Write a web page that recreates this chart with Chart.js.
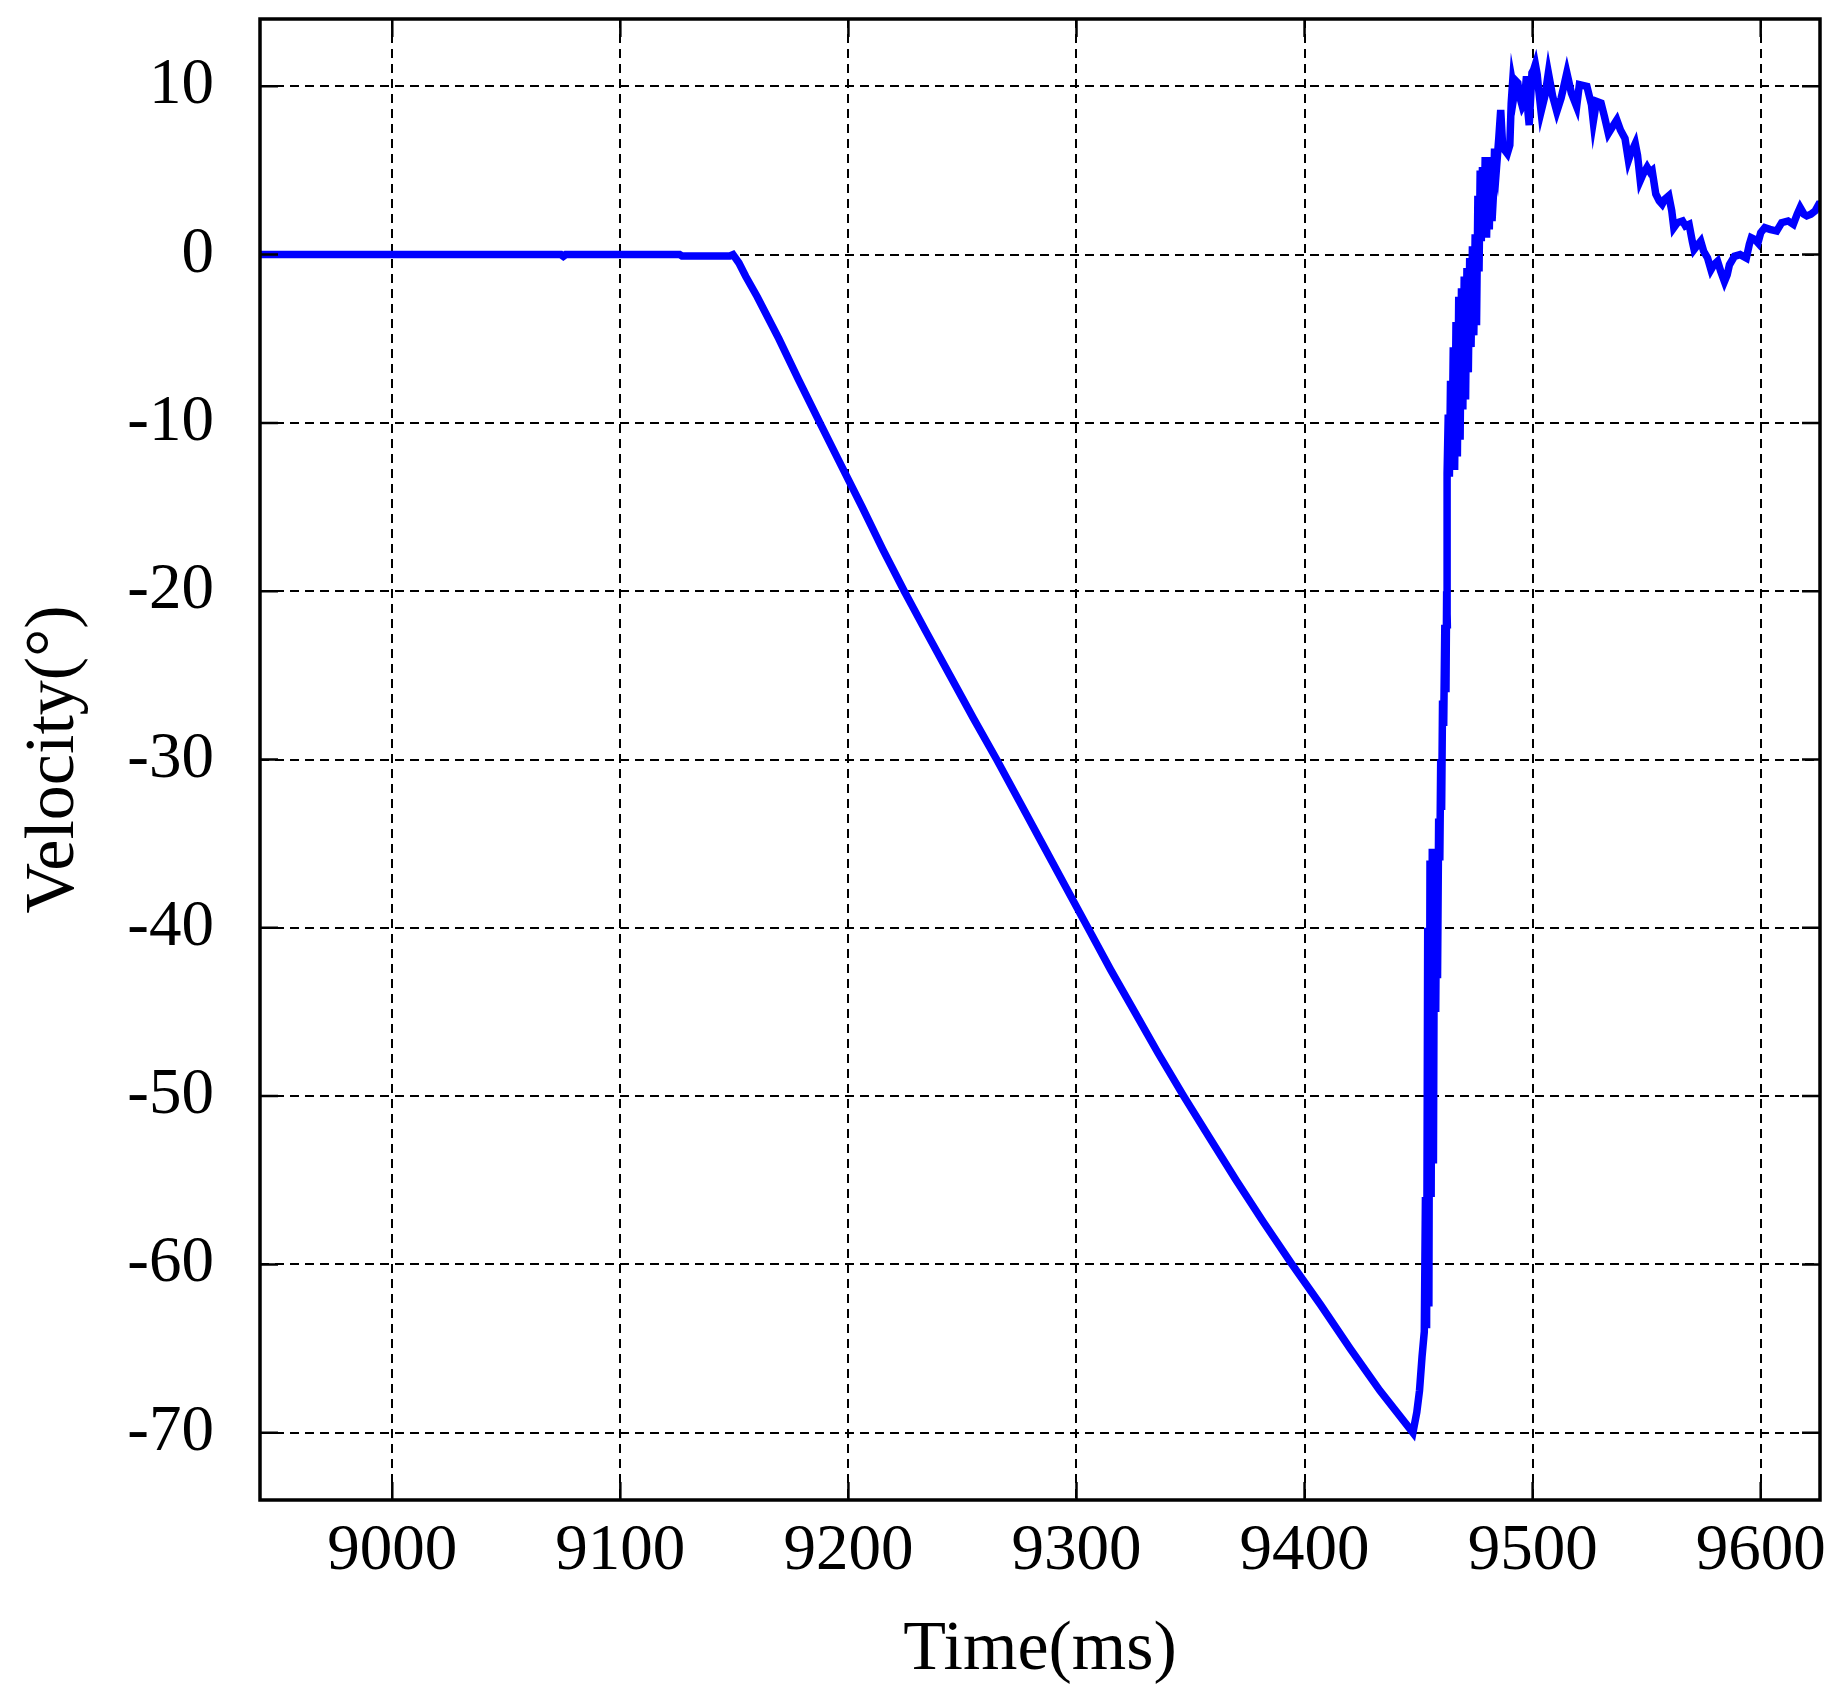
<!DOCTYPE html>
<html>
<head>
<meta charset="utf-8">
<script src="https://cdn.jsdelivr.net/npm/chart.js@4.4.1/dist/chart.umd.min.js"></script>
<style>
  html, body { margin: 0; padding: 0; background: #fff; }
  #chart { display: block; }
</style>
</head>
<body>
<canvas id="chart" width="1843" height="1705"></canvas>
<script>
const xTicks = [9000, 9100, 9200, 9300, 9400, 9500, 9600];
const yTicks = [10, 0, -10, -20, -30, -40, -50, -60, -70];
const xRange = [8942, 9626];
const yRange = [-74, 14];

// samples: [time ms, velocity deg]
const idle = [
  [8942, 0], [9000, 0], [9074, 0], [9075, -0.1], [9076, 0],
  [9126, 0], [9127, -0.08], [9148, -0.08]
];

const rampDown = [
  [9149.4, 0], [9152, -0.5], [9155, -1.3], [9160, -2.5], [9169.5, -5],
  [9178, -7.4], [9187.5, -10], [9196, -12.3], [9206, -15], [9215, -17.5],
  [9224.5, -20], [9234, -22.4], [9244.5, -25], [9255, -27.6], [9265, -30],
  [9275, -32.5], [9285, -35], [9295, -37.5], [9305, -40], [9315, -42.5],
  [9325.5, -45], [9336, -47.5], [9347, -50], [9358, -52.4], [9370, -55],
  [9382, -57.5], [9394.5, -60], [9407, -62.4], [9420, -65], [9433, -67.5],
  [9440, -68.7], [9447.5, -70]
];

const rebound = [
  [9449.2, -68.8], [9450.4, -67.5], [9451.5, -65.5], [9452.5, -64.0], [9453.0, -56.0],
  [9453.5, -63.8], [9454.0, -40.0], [9454.5, -62.5], [9455.0, -36.0], [9455.5, -56.0],
  [9456.0, -35.3], [9456.5, -54.0], [9457.0, -35.5], [9457.5, -45.0], [9458.0, -35.6],
  [9458.3, -43.0], [9458.8, -33.5], [9459.3, -36.0], [9459.7, -30.0], [9460.1, -33.0],
  [9460.5, -26.5], [9461.0, -28.0], [9461.5, -22.0], [9462.0, -26.0], [9462.3, -20.0],
  [9462.6, -22.0], [9462.5, -16.0], [9462.5, -13.0],
  [9463.0, -9.5], [9463.5, -13.2], [9464.0, -7.5], [9464.6, -12.5], [9465.2, -5.5],
  [9465.8, -12.8], [9466.4, -4.0], [9467.0, -12.0], [9467.6, -2.5], [9468.2, -11.0],
  [9468.8, -2.0], [9469.4, -9.2], [9470.0, -1.3], [9470.6, -8.6], [9471.2, -0.8],
  [9471.8, -7.0], [9472.4, -0.2], [9473.0, -5.5], [9473.6, 0.5], [9474.2, -4.8],
  [9474.8, 1.2], [9475.4, -4.2], [9476.0, 3.5], [9476.5, -1.0], [9477.0, 5.0],
  [9477.5, 0.8], [9478.0, 5.2], [9478.6, 1.2], [9479.2, 5.8], [9479.8, 1.0],
  [9480.4, 5.6], [9481.0, 1.5], [9481.6, 5.8], [9482.2, 2.0], [9482.8, 3.5],
  [9483.3, 6.3], [9484.3, 5.4], [9485.2, 7.0], [9486.0, 8.6], [9486.8, 6.6],
  [9487.8, 6.2], [9488.9, 6.0], [9490.0, 6.5], [9490.6, 9.0], [9491.2, 10.2],
  [9492.0, 9.6], [9492.8, 10.3], [9493.5, 10.2], [9494.5, 9.3], [9495.5, 8.8],
  [9496.3, 9.0], [9497.3, 10.6], [9498.0, 8.4], [9498.5, 7.7], [9499.2, 9.5],
  [9499.7, 10.8], [9500.5, 11.0], [9501.2, 11.3], [9502.0, 10.7], [9502.5, 10.0],
  [9503.7, 8.5], [9505.5, 9.5], [9506.9, 10.8], [9508.8, 9.4], [9510.6, 8.5],
  [9512.5, 9.3], [9515.0, 10.8], [9517.0, 9.6], [9519.3, 8.8], [9520.5, 10.1],
  [9523.8, 10.0], [9525.8, 8.9], [9526.6, 7.9], [9528.0, 9.1], [9530.0, 9.0],
  [9531.5, 8.2], [9533.2, 7.2], [9535.0, 7.6], [9536.9, 8.0]
];

const settle = [
  [9538.5, 7.4], [9540.5, 6.9], [9542.0, 5.6], [9543.0, 6.0], [9545.0, 6.6],
  [9546.0, 5.9], [9547.2, 4.4], [9548.5, 4.8], [9550.2, 5.2], [9551.5, 4.9],
  [9552.4, 5.0], [9554.0, 3.6], [9555.5, 3.2], [9556.8, 3.0], [9558.0, 3.3],
  [9559.7, 3.5], [9561.0, 2.6], [9561.9, 1.6], [9563.5, 1.9], [9565.7, 2.0],
  [9567.0, 1.7], [9568.6, 1.8], [9570.0, 0.8], [9570.8, 0.3], [9572.5, 0.6],
  [9573.7, 0.8], [9575.0, 0.2], [9576.7, -0.2], [9578.2, -0.9], [9579.5, -0.6],
  [9581.1, -0.4], [9582.5, -1.0], [9584.1, -1.6], [9585.3, -1.2], [9586.3, -0.6],
  [9588.5, -0.1], [9591.0, 0.0], [9593.7, -0.2], [9595.0, 0.6], [9595.9, 1.0],
  [9597.5, 0.9], [9598.8, 0.7], [9600.0, 1.3], [9601.8, 1.6], [9604.0, 1.5],
  [9607.0, 1.4], [9609.2, 1.9], [9612.0, 2.0], [9614.3, 1.8], [9616.0, 2.4],
  [9617.3, 2.8], [9619.0, 2.4], [9620.2, 2.3], [9622.0, 2.4], [9623.9, 2.6],
  [9625.5, 3.0], [9627.0, 3.0]
];

const FONT = '"Liberation Serif", "Times New Roman", serif';

const points = [...idle, ...rampDown, ...rebound, ...settle].map(([x, y]) => ({ x, y }));

// gnuplot style box: solid border plus short inward ticks on all four sides
const frame = {
  id: 'frame',
  afterDatasetsDraw(chart) {
    const { ctx, chartArea: a, scales: { x, y } } = chart;
    const len = 18;
    ctx.save();
    ctx.strokeStyle = '#000';
    ctx.lineWidth = 2.5;
    ctx.beginPath();
    xTicks.forEach(v => {
      const px = x.getPixelForValue(v);
      ctx.moveTo(px, a.bottom); ctx.lineTo(px, a.bottom - len);
      ctx.moveTo(px, a.top); ctx.lineTo(px, a.top + len);
    });
    yTicks.forEach(v => {
      const py = y.getPixelForValue(v);
      ctx.moveTo(a.left, py); ctx.lineTo(a.left + len, py);
      ctx.moveTo(a.right, py); ctx.lineTo(a.right - len, py);
    });
    ctx.stroke();
    ctx.lineWidth = 3.5;
    ctx.strokeRect(a.left, a.top, a.right - a.left, a.bottom - a.top);
    ctx.restore();
  }
};

const tickFont = { family: FONT, size: 65, lineHeight: 1.2 };
const titleFont = { family: FONT, size: 70, lineHeight: 1.2 };

new Chart(document.getElementById('chart'), {
  type: 'line',
  data: {
    datasets: [{
      data: points,
      borderColor: '#0000ff',
      borderWidth: 7.5,
      pointRadius: 0,
      tension: 0,
      fill: false
    }]
  },
  options: {
    responsive: false,
    animation: false,
    devicePixelRatio: 1,
    layout: { padding: { top: 19, right: 23, bottom: 0, left: 0 } },
    plugins: { legend: { display: false }, tooltip: { enabled: false } },
    scales: {
      x: {
        type: 'linear',
        min: xRange[0],
        max: xRange[1],
        afterBuildTicks: s => { s.ticks = xTicks.map(v => ({ value: v })); },
        afterFit: s => { s.height = 205; s.paddingLeft = 0; s.paddingRight = 0; },
        grid: { color: '#000', lineWidth: 2, drawTicks: false },
        border: { display: false, dash: [9, 6] },
        ticks: { color: '#000', padding: 13, font: tickFont, maxRotation: 0, autoSkip: false, callback: v => String(v) },
        title: { display: true, text: 'Time(ms)', color: '#000', font: titleFont, padding: { top: 0, bottom: 12 } }
      },
      y: {
        type: 'linear',
        min: yRange[0],
        max: yRange[1],
        afterBuildTicks: s => { s.ticks = yTicks.map(v => ({ value: v })); },
        afterFit: s => { s.width = 260; s.paddingTop = 0; s.paddingBottom = 0; },
        grid: { color: '#000', lineWidth: 2, drawTicks: false },
        border: { display: false, dash: [9, 6] },
        ticks: { color: '#000', padding: 46, font: tickFont, autoSkip: false, callback: v => String(v) },
        title: { display: true, text: 'Velocity(°)', color: '#000', font: titleFont, padding: { top: 13, bottom: 0 } }
      }
    }
  },
  plugins: [frame]
});
</script>
</body>
</html>
